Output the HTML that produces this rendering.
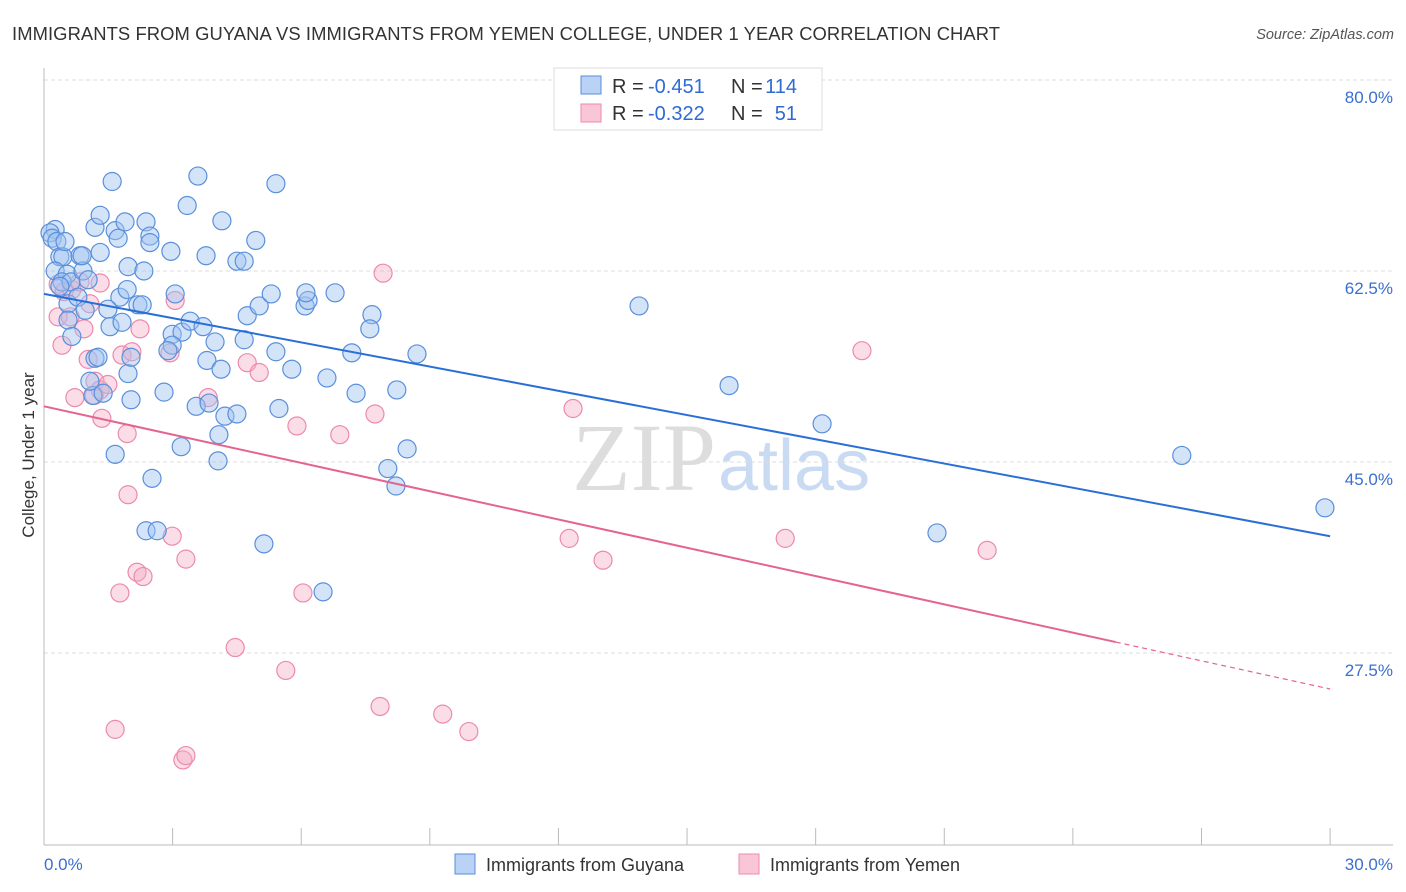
<!DOCTYPE html>
<html><head><meta charset="utf-8"><style>
body{margin:0;background:#fff;font-family:"Liberation Sans",sans-serif}
svg{display:block}
</style></head><body>
<svg id="chart" width="1406" height="892">
<text x="12" y="40" font-size="18.4" fill="#333" textLength="988">IMMIGRANTS FROM GUYANA VS IMMIGRANTS FROM YEMEN COLLEGE, UNDER 1 YEAR CORRELATION CHART</text>
<text x="1394" y="39" font-size="14.5" fill="#555" font-style="italic" text-anchor="end">Source: ZipAtlas.com</text>
<text x="716" y="490" font-size="96" fill="#ddd" font-family="Liberation Serif,serif" text-anchor="end">ZIP</text>
<text x="718" y="490" font-size="72" fill="#c9daf3">atlas</text>
<g id="grid"></g>
<line x1="44" y1="68" x2="44" y2="845" stroke="#bbb"/>
<line x1="44" y1="845" x2="1393" y2="845" stroke="#bbb"/>
<g id="xticks"></g>
<text x="34" y="455" font-size="17" fill="#333" text-anchor="middle" transform="rotate(-90 34 455)">College, Under 1 year</text>
<text x="44" y="870" font-size="17" fill="#3a6fd0">0.0%</text>
<text x="1393" y="870" font-size="17" fill="#3a6fd0" text-anchor="end">30.0%</text>
<g id="pts"></g>
<g id="lines"></g>
<g>
<rect x="554" y="68" width="268" height="62" fill="#fff" stroke="#ddd"/>
<rect x="581" y="76" width="20" height="18" fill="#b9d2f5" stroke="#5a8fdc"/>
<rect x="581" y="104" width="20" height="18" fill="#f9c6d6" stroke="#ec8aac"/>
<text x="612" y="93" font-size="20" fill="#333">R =</text>
<text x="648" y="93" font-size="20" fill="#2f6bd3">-0.451</text>
<text x="731" y="93" font-size="20" fill="#333">N =</text>
<text x="797" y="93" font-size="20" fill="#2f6bd3" text-anchor="end">114</text>
<text x="612" y="120" font-size="20" fill="#333">R =</text>
<text x="648" y="120" font-size="20" fill="#2f6bd3">-0.322</text>
<text x="731" y="120" font-size="20" fill="#333">N =</text>
<text x="797" y="120" font-size="20" fill="#2f6bd3" text-anchor="end">51</text>
</g>
<g><rect x="455" y="854" width="20" height="20" fill="#b9d2f5" stroke="#5a8fdc"/><text x="486" y="871" font-size="18" fill="#333">Immigrants from Guyana</text></g>
<g><rect x="739" y="854" width="20" height="20" fill="#f9c6d6" stroke="#ec8aac"/><text x="770" y="871" font-size="18" fill="#333">Immigrants from Yemen</text></g>
</svg>
<script>
const yTicks=[80,62.5,45,27.5];
const blueX=[0.26,0.14,0.19,0.3,0.37,0.44,0.26,0.54,0.42,0.63,0.84,0.91,0.56,0.79,0.96,0.56,0.65,1.96,1.19,1.14,1.07,1.31,1.19,1.31,1.59,1.66,1.73,1.89,2.38,2.47,2.47,1.96,2.33,2.96,3.59,3.34,3.78,4.15,4.5,4.67,4.94,5.41,1.77,1.94,1.49,1.54,1.82,2.19,2.29,3.06,2.99,3.22,3.41,3.71,3.99,3.8,4.13,2.03,2.8,2.99,2.89,3.55,3.85,4.22,4.5,4.08,4.06,3.2,2.52,1.66,2.38,2.64,5.13,6.51,4.74,5.02,5.3,4.67,5.41,5.78,6.09,6.16,6.11,6.79,7.65,7.6,7.18,6.6,7.28,8.23,8.7,5.48,8.02,8.21,8.47,13.88,15.98,18.15,20.83,26.54,29.88,2.03,1.38,1.26,0.89,0.49,1.03,0.37];
const blueY=[66.3,66.0,65.5,65.2,63.8,63.8,62.5,62.2,61.5,61.5,63.9,62.5,59.5,60.1,58.9,58.0,56.5,53.1,54.5,51.1,52.4,64.2,66.5,67.6,70.7,66.2,65.5,67.0,67.0,65.7,65.1,62.9,62.5,64.3,71.2,68.5,63.9,67.1,63.4,63.4,65.3,70.5,60.1,60.8,59.0,57.4,57.8,59.4,59.4,60.4,56.7,56.9,57.9,57.4,56.0,54.3,53.5,54.6,51.4,55.7,55.2,50.1,50.4,49.2,49.4,47.5,45.1,46.4,43.5,45.7,38.7,38.7,37.5,33.1,58.4,59.3,60.4,56.2,55.1,53.5,59.3,59.8,60.5,60.5,58.5,57.2,55.0,52.7,51.3,51.6,54.9,49.9,44.4,42.8,46.2,59.3,52.0,48.5,38.5,45.6,40.8,50.7,51.3,54.6,63.9,65.2,61.7,61.1];
const pinkX=[0.33,0.47,0.65,0.84,1.31,0.33,0.42,0.61,0.93,1.03,1.19,1.31,0.72,1.35,1.49,1.82,2.05,2.24,1.94,1.96,3.06,2.94,3.83,4.74,5.02,5.9,6.9,7.72,7.91,12.34,19.08,2.17,2.31,1.77,3.31,2.99,4.46,5.64,6.04,7.84,9.3,9.91,1.66,3.24,3.31,12.25,13.04,17.29,22.0,1.17,1.07];
const pinkY=[61.3,60.6,60.8,61.5,61.4,58.3,55.7,58.3,57.2,54.4,52.4,51.6,50.9,49.0,52.1,54.8,55.1,57.2,47.6,42.0,59.8,55.0,50.9,54.1,53.2,48.3,47.5,49.4,62.3,49.9,55.2,34.9,34.5,33.0,36.1,38.2,28.0,25.9,33.0,22.6,21.9,20.3,20.5,17.7,18.1,38.0,36.0,38.0,36.9,51.1,59.5];
const blueLine=[0,60.4,30,38.2];
const pinkLine=[0,50.1,25,28.5,30,24.2];
const NS='http://www.w3.org/2000/svg';
const sx=v=>44+v*42.87, sy=v=>80+(80-v)*10.914;
function mk(t,a,p){const e=document.createElementNS(NS,t);for(const k in a)e.setAttribute(k,a[k]);p.appendChild(e);return e;}
const grid=document.getElementById('grid');
yTicks.forEach(t=>{
 const l=mk('line',{x1:44,x2:1393,y1:sy(t),y2:sy(t),stroke:'#ddd','stroke-dasharray':'4,3'},grid);
 
 
 const tx=mk('text',{x:1393,y:sy(t)+23,'font-size':17,fill:'#3a6fd0','text-anchor':'end'},grid);
 tx.textContent=t.toFixed(1)+'%';
 
 
});
const xt=document.getElementById('xticks');
for(let i=0;i<=10;i++){const l=mk('line',{x1:sx(i*3),x2:sx(i*3),y1:828,y2:845,stroke:'#bbb'},xt);
 
 }
const pts=document.getElementById('pts');
pinkX.forEach((x,i)=>{const c=mk('circle',{cx:sx(x),cy:sy(pinkY[i]),r:9,fill:'rgba(245,170,195,0.4)',stroke:'#ec8aac','stroke-width':1.2},pts);
 
 });
blueX.forEach((x,i)=>{const c=mk('circle',{cx:sx(x),cy:sy(blueY[i]),r:9,fill:'rgba(160,195,240,0.45)',stroke:'#5a8fdc','stroke-width':1.2},pts);
 
 });
const lg=document.getElementById('lines');
const bl=mk('line',{x1:sx(blueLine[0]),y1:sy(blueLine[1]),x2:sx(blueLine[2]),y2:sy(blueLine[3]),stroke:'#2a6fd6','stroke-width':2},lg);


const pl=mk('line',{x1:sx(pinkLine[0]),y1:sy(pinkLine[1]),x2:sx(pinkLine[2]),y2:sy(pinkLine[3]),stroke:'#e5648f','stroke-width':2},lg);


const pd=mk('line',{x1:sx(pinkLine[2]),y1:sy(pinkLine[3]),x2:sx(pinkLine[4]),y2:sy(pinkLine[5]),stroke:'#e5648f','stroke-width':1.2,'stroke-dasharray':'5,4'},lg);


</script>
</body></html>
